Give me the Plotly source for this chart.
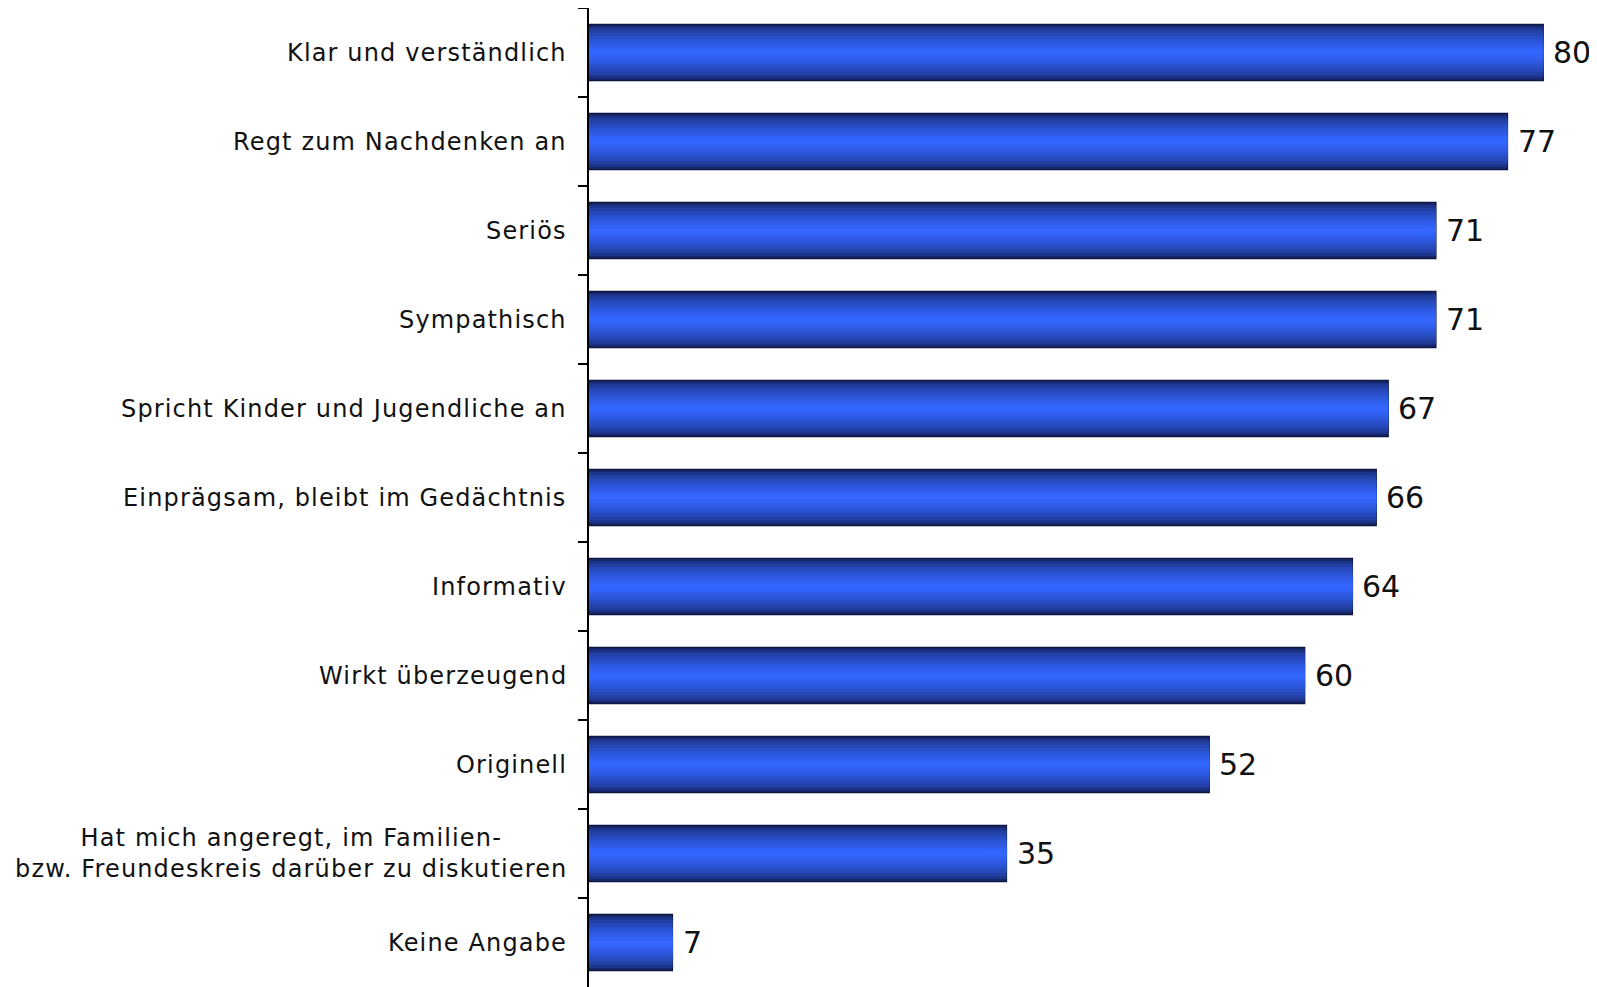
import plotly.graph_objects as go

categories = [
    "Klar und verständlich",
    "Regt zum Nachdenken an",
    "Seriös",
    "Sympathisch",
    "Spricht Kinder und Jugendliche an",
    "Einprägsam, bleibt im Gedächtnis",
    "Informativ",
    "Wirkt überzeugend",
    "Originell",
    "Hat mich angeregt, im Familien-<br>bzw. Freundeskreis darüber zu diskutieren",
    "Keine Angabe",
]
values = [80, 77, 71, 71, 67, 66, 64, 60, 52, 35, 7]

BAR_W = 0.63
N_LAYERS = 10
dark = (22, 38, 105)
bright = (51, 102, 255)

fig = go.Figure()
for i in range(N_LAYERS):
    t = i / (N_LAYERS - 1)
    c = tuple(int(round(dark[k] + (bright[k] - dark[k]) * (t ** 0.6))) for k in range(3))
    w = BAR_W * (1 - i / N_LAYERS)
    fig.add_trace(go.Bar(
        x=values, y=categories, orientation="h", width=w,
        marker=dict(color="rgb(%d,%d,%d)" % c,
                    line=dict(color="#0b1640" if i == 0 else "rgba(0,0,0,0)", width=1.2 if i == 0 else 0)),
        hoverinfo="skip", showlegend=False,
    ))


def spaced(label):
    return "<br>".join('<span style="letter-spacing:1.15px">%s</span>' % part
                       for part in label.split("<br>"))


annotations = []
for cat, v in zip(categories, values):
    annotations.append(dict(
        x=0, xref="paper", y=cat, yref="y", text=spaced(cat), showarrow=False,
        xanchor="right", yanchor="middle", align="center", xshift=-20,
        font=dict(family="DejaVu Sans", size=24, color="#111111"),
    ))
    annotations.append(dict(
        x=v, xref="x", y=cat, yref="y", text=str(v), showarrow=False,
        xanchor="left", yanchor="middle", xshift=8,
        font=dict(family="DejaVu Sans", size=30, color="#111111"),
    ))

fig.update_layout(
    width=1589, height=979,
    margin=dict(l=581, r=0, t=0, b=0),
    paper_bgcolor="white", plot_bgcolor="white",
    barmode="overlay",
    annotations=annotations,
    xaxis=dict(range=[0, 84.5], visible=False),
    yaxis=dict(
        autorange="reversed", showticklabels=False, showgrid=False,
        showline=True, linecolor="black", linewidth=2,
        ticks="outside", ticklen=9, tickwidth=1.5, tickcolor="black",
        tickson="boundaries", zeroline=False,
    ),
)

fig.write_html("out.html", post_script="document.body.style.overflow='hidden';")
